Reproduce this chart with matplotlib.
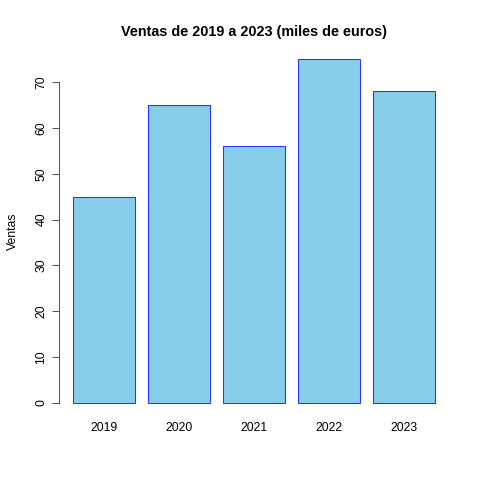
import matplotlib
matplotlib.use("Agg")
import matplotlib.pyplot as plt

anios = ["2019", "2020", "2021", "2022", "2023"]
ventas = [45, 65, 56, 75, 68]
yticks = [0, 10, 20, 30, 40, 50, 60, 70]

plt.rcParams['font.family'] = ['Liberation Sans', 'DejaVu Sans']

fig = plt.figure(figsize=(4.8, 4.8), dpi=100)
ax = fig.add_axes([0.122, 0.1317, 0.9365 - 0.122, 0.9056 - 0.1317])

# posiciones como en barplot de R: ancho 1, espacio 0.2
pos = [0.2 + 1.2 * i + 0.5 for i in range(len(anios))]
ax.bar(pos, ventas, width=1.0, color="#87CEEB", edgecolor="#3030ff", linewidth=0.75)

ax.set_xlim(-0.032, 6.232)
ax.set_ylim(-3, 78)

for s in ["top", "right", "bottom"]:
    ax.spines[s].set_visible(False)
ax.spines["left"].set_bounds(0, 70)
ax.spines["left"].set_linewidth(0.75)
ax.spines["left"].set_color("#555555")

ax.set_yticks(yticks)
ax.set_yticklabels([str(v) for v in yticks], rotation=90, va="center")
ax.tick_params(axis="y", length=5, width=0.75, color="#555555", labelsize=8.8, pad=3)
ax.set_xticks(pos)
ax.set_xticklabels(anios)
ax.tick_params(axis="x", length=0, labelsize=8.8, pad=4)

ax.set_ylabel("Ventas", fontsize=8.8, labelpad=12)
ax.set_title("Ventas de 2019 a 2023 (miles de euros)", fontsize=10.4,
             fontweight="bold", pad=7)

fig.savefig("out.png", dpi=100)
